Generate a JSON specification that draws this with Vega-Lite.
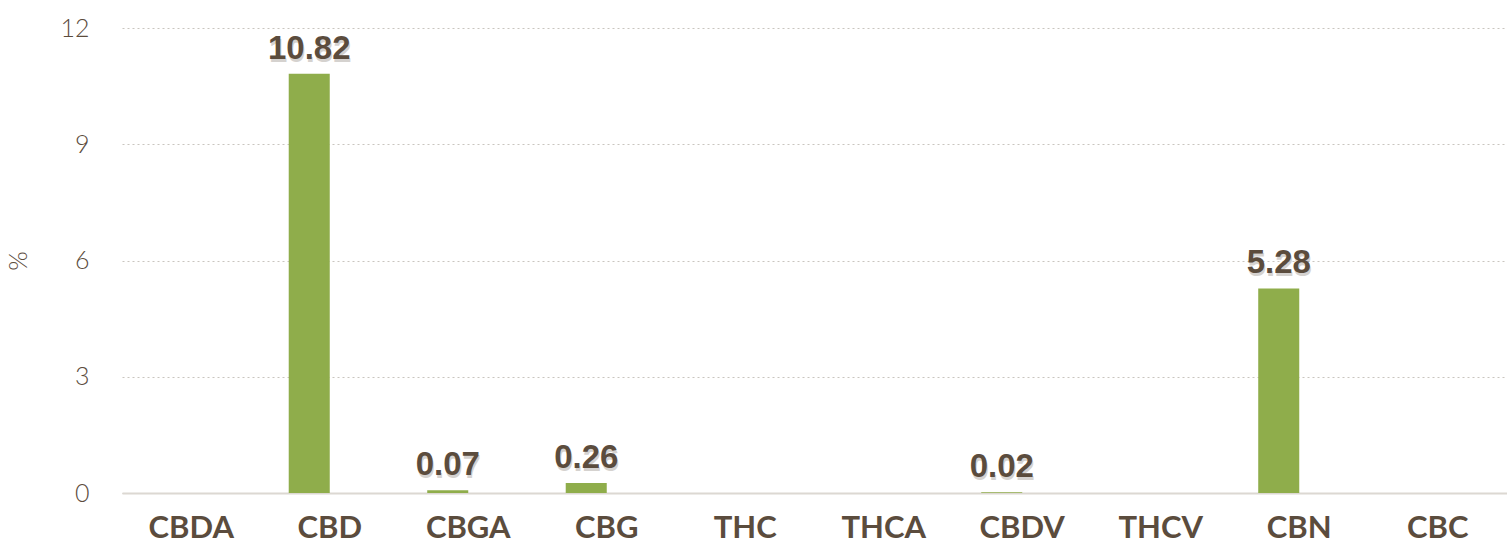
{
  "$schema": "https://vega.github.io/schema/vega-lite/v6.json",
  "width": 1507,
  "height": 543,
  "autosize": {"type": "fit", "contains": "padding"},
  "padding": {"left": 6, "right": 0, "top": 16, "bottom": 0},
  "background": "white",
  "config": {"view": {"stroke": null}},
  "data": {
    "values": [
      {"name": "CBDA", "series": "a", "value": 0},
      {"name": "CBD", "series": "a", "value": 10.82},
      {"name": "CBGA", "series": "a", "value": 0.07},
      {"name": "CBG", "series": "a", "value": 0.26},
      {"name": "THC", "series": "a", "value": 0},
      {"name": "THCA", "series": "a", "value": 0},
      {"name": "CBDV", "series": "a", "value": 0.02},
      {"name": "THCV", "series": "a", "value": 0},
      {"name": "CBN", "series": "a", "value": 5.28},
      {"name": "CBC", "series": "a", "value": 0}
    ]
  },
  "encoding": {
    "x": {
      "field": "name",
      "type": "nominal",
      "sort": null,
      "scale": {"paddingInner": 0, "paddingOuter": 0},
      "axis": {
        "title": null,
        "labelAngle": 0,
        "labelFont": "Lato",
        "labelFontWeight": "bold",
        "labelFontSize": 31,
        "labelColor": "#5b4c3d",
        "labelPadding": 20,
        "ticks": false,
        "domainColor": "#dcd8d2",
        "domainWidth": 2
      }
    },
    "xOffset": {
      "field": "series",
      "type": "nominal",
      "scale": {"domain": ["a", "b"], "paddingInner": 0, "paddingOuter": 0.688}
    },
    "y": {
      "field": "value",
      "type": "quantitative",
      "scale": {"domain": [0, 12]},
      "axis": {
        "title": "%",
        "titleFont": "Lato",
        "titleFontWeight": 300,
        "titleFontSize": 25,
        "titleColor": "#5b4c3d",
        "titlePadding": 28,
        "values": [0, 3, 6, 9, 12],
        "labelFont": "Lato",
        "labelFontWeight": 300,
        "labelFontSize": 25,
        "labelColor": "#5b4c3d",
        "labelPadding": 33,
        "ticks": false,
        "domain": false,
        "gridColor": "#c9c5bf",
        "gridDash": [2, 3],
        "gridWidth": 1.2
      }
    }
  },
  "layer": [
    {"mark": {"type": "bar", "color": "#8fad4b"}},
    {
      "transform": [{"filter": "datum.value > 0"}],
      "mark": {"type": "text", "font": "Liberation Sans", "fontWeight": "bold", "fontSize": 33, "color": "#8a8178", "opacity": 0.35, "baseline": "alphabetic", "dy": -12, "dx": 1},
      "encoding": {"text": {"field": "value", "type": "quantitative", "format": ".2f"}}
    },
    {
      "transform": [{"filter": "datum.value > 0"}],
      "mark": {"type": "text", "font": "Liberation Sans", "fontWeight": "bold", "fontSize": 33, "color": "#5b4c3d", "baseline": "alphabetic", "dy": -15},
      "encoding": {"text": {"field": "value", "type": "quantitative", "format": ".2f"}}
    }
  ]
}
